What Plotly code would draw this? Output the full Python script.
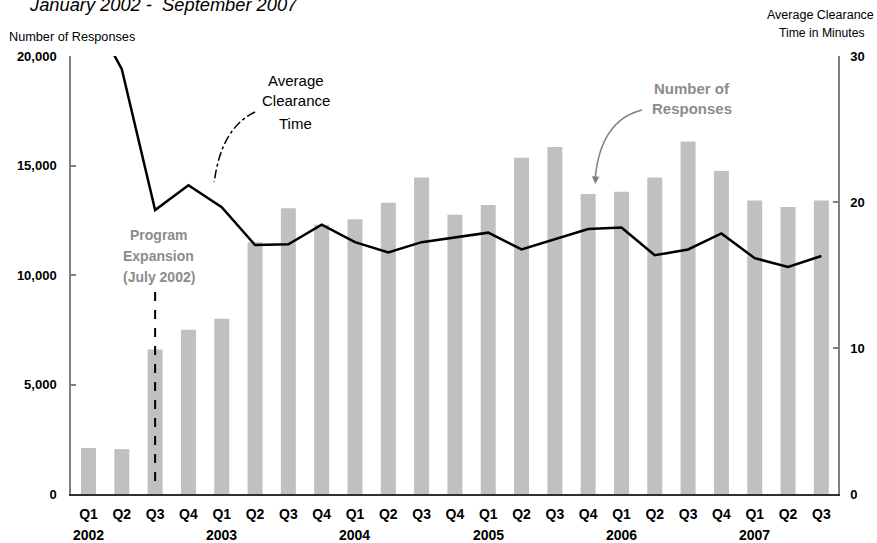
import plotly.graph_objects as go

quarters = ["Q1", "Q2", "Q3", "Q4"] * 5 + ["Q1", "Q2", "Q3"]
years = [2002] * 4 + [2003] * 4 + [2004] * 4 + [2005] * 4 + [2006] * 4 + [2007] * 3
categories = [f"{q} {y}" for q, y in zip(quarters, years)]

responses = [2100, 2050, 6600, 7500, 8000, 11500, 13050, 12300, 12550,
             13300, 14450, 12750, 13200, 15350, 15850, 13700, 13800,
             14450, 16100, 14750, 13400, 13100, 13400]

clearance_minutes = [33.3, 29.1, 19.45, 21.15, 19.65, 17.05, 17.1, 18.45, 17.25,
                     16.55, 17.25, 17.6, 17.9, 16.75, 17.45, 18.15, 18.25,
                     16.35, 16.75, 17.85, 16.15, 15.55, 16.3]

left_ticks = [0, 5000, 10000, 15000, 20000]
right_ticks = [0, 10, 20, 30]
year_labels = ["2002", "2003", "2004", "2005", "2006", "2007"]

W, H = 877, 543
L, R, T, B = 71, 35, 56, 49
PW, PH = W - L - R, H - T - B

def px(x):
    return (x - L) / PW

def py(y):
    return (H - B - y) / PH

FONT = "Liberation Sans, Arial, sans-serif"
GRAY_TXT = "#8c8c8c"

fig = go.Figure()
fig.add_trace(go.Bar(x=categories, y=responses, marker_color="#c0c0c0",
                     marker_line_width=0, yaxis="y", showlegend=False))
fig.add_trace(go.Scatter(x=categories, y=clearance_minutes, mode="lines",
                         line=dict(color="black", width=2.5), yaxis="y2",
                         showlegend=False))

fig.update_layout(
    width=W, height=H,
    margin=dict(l=L, r=R, t=T, b=B),
    paper_bgcolor="white", plot_bgcolor="white",
    bargap=0.55,
    font=dict(family=FONT, color="black"),
    xaxis=dict(type="category", tickmode="array", tickvals=categories,
               ticktext=quarters, showline=True, linecolor="#303030",
               linewidth=1.5, ticks="", showgrid=False, zeroline=False,
               tickfont=dict(size=14, weight="bold", family=FONT),
               ticklabelstandoff=6),
    yaxis=dict(range=[0, 20000], tickvals=left_ticks, tickformat=",",
               showline=True, linecolor="#808080", linewidth=1.5,
               ticks="inside", ticklen=5, tickcolor="#808080", tickwidth=1.5,
               showgrid=False, zeroline=False,
               tickfont=dict(size=13, weight="bold", family=FONT),
               ticklabelstandoff=10),
    yaxis2=dict(range=[0, 30], tickvals=right_ticks, overlaying="y",
                side="right", showline=True, linecolor="#808080",
                linewidth=1.5, ticks="inside", ticklen=5, tickcolor="#808080",
                tickwidth=1.5, showgrid=False, zeroline=False,
                tickfont=dict(size=13, weight="bold", family=FONT),
                ticklabelstandoff=8),
)

ann = []
# years under Q1s
for i, yl in enumerate(year_labels):
    ann.append(dict(x=categories[i * 4], y=py(535), xref="x", yref="paper",
                    text=yl, showarrow=False, xanchor="center", yanchor="middle",
                    font=dict(size=14, weight="bold", family=FONT)))
# title
ann.append(dict(x=px(27), y=py(5), xref="paper", yref="paper", xanchor="left",
                yanchor="middle", showarrow=False,
                text="January 2002 -\u00a0 September 2007",
                font=dict(size=18.3, style="italic", family=FONT)))
# left axis title
ann.append(dict(x=px(7), y=py(37), xref="paper", yref="paper", xanchor="left",
                yanchor="middle", showarrow=False, text="Number of Responses",
                font=dict(size=12.7, family=FONT)))
# right axis title
ann.append(dict(x=px(824), y=py(15), xref="paper", yref="paper",
                xanchor="center", yanchor="middle", showarrow=False,
                text="Average Clearance", font=dict(size=12.5, family=FONT)))
ann.append(dict(x=px(826), y=py(33), xref="paper", yref="paper",
                xanchor="center", yanchor="middle", showarrow=False,
                text="Time in Minutes", font=dict(size=12.2, family=FONT)))
# Average Clearance Time label
for t, yy in zip(["Average", "Clearance", "Time"], [80, 101, 123]):
    ann.append(dict(x=px(297), y=py(yy), xref="paper", yref="paper",
                    xanchor="center", yanchor="middle", showarrow=False, text=t,
                    font=dict(size=15, family=FONT)))
# Number of Responses label
for t, yy in zip(["Number of", "Responses"], [88, 108]):
    ann.append(dict(x=px(695), y=py(yy), xref="paper", yref="paper",
                    xanchor="center", yanchor="middle", showarrow=False, text=t,
                    font=dict(size=15, weight="bold", family=FONT,
                              color=GRAY_TXT)))
# Program Expansion label
for t, yy in zip(["Program", "Expansion", "(July 2002)"], [235, 256, 277]):
    ann.append(dict(x=px(159), y=py(yy), xref="paper", yref="paper",
                    xanchor="center", yanchor="middle", showarrow=False, text=t,
                    font=dict(size=14, weight="bold", family=FONT,
                              color=GRAY_TXT)))
# arrowhead for Number of Responses pointer
ann.append(dict(x=px(598), y=py(184), xref="paper", yref="paper",
                ax=0.5, ay=-9, showarrow=True, arrowhead=2, arrowsize=1,
                arrowwidth=1.5, arrowcolor="#808080", text=""))
fig.update_layout(annotations=ann)

shapes = [
    dict(type="line", xref="x", yref="paper", x0=categories[2],
         x1=categories[2], y0=py(481), y1=py(283),
         line=dict(color="black", width=2, dash="dash")),
    dict(type="path", xref="paper", yref="paper",
         path=f"M {px(256)},{py(112)} Q {px(222)},{py(128)} {px(215)},{py(182)}",
         line=dict(color="black", width=1.5, dash="dashdot")),
    dict(type="path", xref="paper", yref="paper",
         path=f"M {px(645)},{py(110)} Q {px(604)},{py(120)} {px(598)},{py(177)}",
         line=dict(color="#808080", width=1.5)),
]
fig.update_layout(shapes=shapes)

fig.write_html("out.html", config={"displayModeBar": False},
               post_script="document.body.style.margin='0';"
                           "document.body.style.overflow='hidden';")
